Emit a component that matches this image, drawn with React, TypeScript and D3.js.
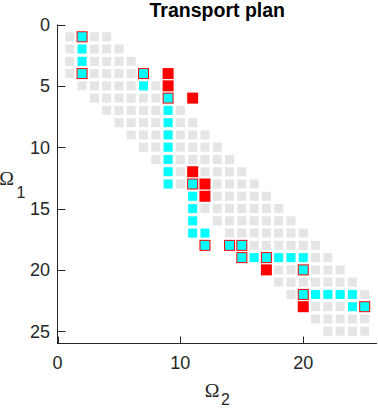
/**
 * Transport plan — band support (grey), optimal plan (cyan), alternate plan (red)
 * Scales via d3, marks as JSX.
 */
import * as d3 from 'd3'
import { useEffect } from 'react'

// support of the cost matrix, listed row by row (Ω1 index -> Ω2 indices)
const grayRows: number[][] = [
  [1, 2, 3, 4],
  [1, 2, 3, 4, 5],
  [1, 2, 3, 4, 5, 6],
  [1, 2, 3, 4, 5, 6, 7],
  [2, 3, 4, 5, 6, 7, 8],
  [3, 4, 5, 6, 7, 8, 9],
  [4, 5, 6, 7, 8, 9, 10],
  [5, 6, 7, 8, 9, 10, 11],
  [6, 7, 8, 9, 10, 11, 12],
  [7, 8, 9, 10, 11, 12, 13],
  [8, 9, 10, 11, 12, 13, 14],
  [9, 10, 11, 12, 13, 14, 15],
  [10, 11, 12, 13, 14, 15, 16],
  [11, 12, 13, 14, 15, 16, 17],
  [12, 13, 14, 15, 16, 17, 18],
  [13, 14, 15, 16, 17, 18, 19],
  [14, 15, 16, 17, 18, 19, 20],
  [15, 16, 17, 18, 19, 20, 21],
  [16, 17, 18, 19, 20, 21, 22],
  [17, 18, 19, 20, 21, 22, 23],
  [18, 19, 20, 21, 22, 23, 24],
  [19, 20, 21, 22, 23, 24, 25],
  [20, 21, 22, 23, 24, 25],
  [21, 22, 23, 24, 25],
  [22, 23, 24, 25],
]

// red plan (drawn larger, underneath)
const redRow = [1, 4, 4, 4, 5, 6, 6, 12, 13, 13, 14, 18, 18, 18, 19, 19, 20, 20, 22, 23, 23]
const redCol = [2, 2, 7, 9, 9, 9, 11, 11, 11, 12, 12, 12, 14, 15, 15, 17, 17, 20, 20, 20, 25]

// cyan plan
const cyanRow = [1, 2, 3, 4, 4, 5, 6, 7, 8, 9, 10, 11, 12, 13, 13, 14, 15, 16, 17, 17, 18, 18, 18,
  19, 19, 19, 19, 19, 19, 20, 22, 22, 22, 22, 22, 23, 23]
const cyanCol = [2, 2, 2, 2, 7, 7, 9, 9, 9, 9, 9, 9, 9, 9, 11, 11, 11, 11, 11, 12, 12, 14, 15,
  15, 16, 17, 18, 19, 20, 20, 20, 21, 22, 23, 24, 24, 25]

const xTicks = [0, 10, 20]
const yTicks = [0, 5, 10, 15, 20, 25]
const DOMAIN: [number, number] = [0, 26]

const W = 378
const H = 408
const PLOT = { left: 57.5, right: 377, top: 24.5, bottom: 343.5 }
const AX = '#262626'
const SANS = 'Liberation Sans, Arial, Helvetica, sans-serif'
const SERIF = 'Liberation Serif, Times New Roman, serif'

const GRAY_SZ = 9
const CYAN_SZ = 9
const RED_SZ  = 11

if (typeof document !== 'undefined') document.body.style.margin = '0'

export default function App() {
  useEffect(() => { document.body.style.margin = '0' }, [])

  const x = d3.scaleLinear().domain(DOMAIN).range([PLOT.left, PLOT.right])
  const y = d3.scaleLinear().domain(DOMAIN).range([PLOT.top, PLOT.bottom])

  const sq = (r: number, c: number, s: number, fill: string, key: string) => (
    <rect key={key} x={x(c) - s / 2} y={y(r) - s / 2} width={s} height={s} fill={fill} />
  )

  return (
    <svg width={W} height={H} style={{ display: 'block', background: '#fff' }}>
      {/* grey support */}
      {grayRows.map((cols, i) => cols.map(c => sq(i + 1, c, GRAY_SZ, '#e5e5e5', `g${i}-${c}`)))}

      {/* red plan */}
      {redRow.map((r, i) => sq(r, redCol[i], RED_SZ, '#ff0000', `r${i}`))}

      {/* cyan plan */}
      {cyanRow.map((r, i) => sq(r, cyanCol[i], CYAN_SZ, '#00ffff', `c${i}`))}

      {/* axes */}
      <line x1={PLOT.left} y1={PLOT.top} x2={PLOT.left} y2={PLOT.bottom + 0.5} stroke={AX} strokeWidth={1} />
      <line x1={PLOT.left} y1={PLOT.bottom} x2={PLOT.right} y2={PLOT.bottom} stroke={AX} strokeWidth={1} />

      {yTicks.map(t => (
        <g key={`yt${t}`}>
          <line x1={PLOT.left} y1={Math.round(y(t)) + 0.5} x2={PLOT.left + 8} y2={Math.round(y(t)) + 0.5} stroke={AX} />
          <text x={50} y={y(t) + 6.5} textAnchor="end" fontSize={18} fontFamily={SANS} fill={AX}>{t}</text>
        </g>
      ))}
      {xTicks.map(t => (
        <g key={`xt${t}`}>
          <line x1={Math.round(x(t)) + 0.5} y1={PLOT.bottom} x2={Math.round(x(t)) + 0.5} y2={PLOT.bottom - 7} stroke={AX} />
          <text x={x(t)} y={369} textAnchor="middle" fontSize={18} fontFamily={SANS} fill={AX}>{t}</text>
        </g>
      ))}

      {/* title */}
      <text x={(PLOT.left + PLOT.right) / 2} y={16.5} textAnchor="middle" fontSize={19.5}
        fontWeight="bold" fontFamily={SANS} fill="#000">Transport plan</text>

      {/* axis labels */}
      <text x={14} y={185} textAnchor="end" fontSize={19.8} fontFamily={SERIF} fill={AX}>Ω</text>
      <text x={16.5} y={198} fontSize={16} fontFamily={SANS} fill={AX}>1</text>

      <text x={219.5} y={396.5} textAnchor="end" fontSize={19.8} fontFamily={SERIF} fill={AX}>Ω</text>
      <text x={221} y={405} fontSize={16} fontFamily={SANS} fill={AX}>2</text>
    </svg>
  )
}
